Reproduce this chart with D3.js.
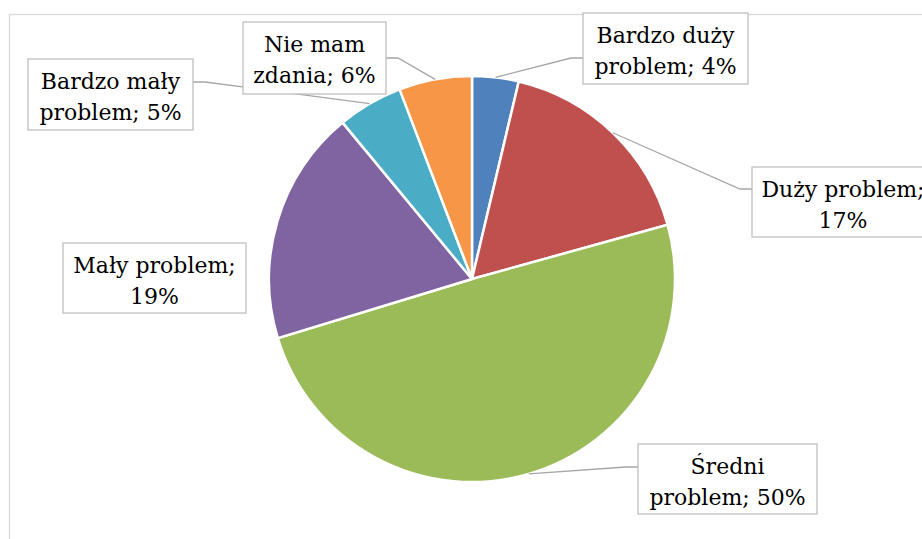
<!DOCTYPE html>
<html lang="pl">
<head>
    <meta charset="UTF-8">
    <style>
        body { margin: 0; background: #fff; }
        .slices path { stroke: #fff; stroke-width: 2.5px; }
        .leaders polyline { fill: none; stroke: #a6a6a6; stroke-width: 1.3px; }
        .labels rect { fill: #fff; stroke: #bfbfbf; stroke-width: 1.3px; }
        .labels text { font-family: "DejaVu Serif", serif; font-size: 22px; fill: #000; }
    </style>
    <title>Wykres</title>
</head>
<body>
<script src="https://d3js.org/d3.v7.min.js" charset="utf-8"></script>
<script>
    // data (percent shares, clockwise from 12 o'clock)
    var categories = ['Bardzo duży problem', 'Duży problem', 'Średni problem', 'Mały problem', 'Bardzo mały problem', 'Nie mam zdania'];
    var values = [3.7, 17.0, 49.6, 18.7, 5.2, 5.8];
    var colors = ['#4f81bd', '#c0504d', '#9bbb59', '#8064a2', '#4bacc6', '#f79646'];

    // label boxes placed like the original (x, y, w, h, side the leader comes in, leader y)
    var labelBoxes = [
        {x: 583, y: 13, w: 165, h: 71, side: 'left', ly: 58},
        {x: 752, y: 167, w: 182, h: 70, side: 'left', ly: 189},
        {x: 638, y: 444, w: 179, h: 70, side: 'left', ly: 467},
        {x: 63, y: 243, w: 183, h: 70, side: null},
        {x: 28, y: 59, w: 165, h: 71, side: 'right', ly: 82},
        {x: 243, y: 22, w: 143, h: 72, side: 'right', ly: 58}
    ];

    var width = 922, height = 539;
    var cx = 472, cy = 279, radius = 203;

    var svg = d3.select('body').append('svg').attr('width', width).attr('height', height);

    // chart area border (cut off at right and bottom)
    svg.append('rect')
        .attr('x', 9.5).attr('y', 14.5)
        .attr('width', 1000).attr('height', 1000)
        .attr('fill', 'none').attr('stroke', '#d9d9d9').attr('stroke-width', 1.3);

    var total = d3.sum(values);
    var pie = d3.pie().sort(null).value(function (d) { return d; });
    var arcs = pie(values);
    var arc = d3.arc().innerRadius(0).outerRadius(radius);

    var g = svg.append('g').attr('transform', 'translate(' + cx + ',' + cy + ')');

    g.append('g').attr('class', 'slices')
        .selectAll('path')
        .data(arcs)
        .enter()
        .append('path')
        .attr('d', arc)
        .attr('fill', function (d, i) { return colors[i]; });

    // leader lines: from the middle of the slice edge to the box
    var leaders = svg.append('g').attr('class', 'leaders');
    arcs.forEach(function (d, i) {
        var b = labelBoxes[i];
        if (!b.side) return;
        var mid = (d.startAngle + d.endAngle) / 2;
        var px = cx + radius * Math.sin(mid), py = cy - radius * Math.cos(mid);
        var ex = b.side === 'left' ? b.x : b.x + b.w;
        var elbow = b.side === 'left' ? ex - 12 : ex + 12;
        leaders.append('polyline')
            .attr('points', [[px, py], [elbow, b.ly], [ex, b.ly]].map(function (p) { return p.join(','); }).join(' '));
    });

    var labels = svg.append('g').attr('class', 'labels');
    arcs.forEach(function (d, i) {
        var b = labelBoxes[i];
        var lg = labels.append('g');
        lg.append('rect').attr('x', b.x).attr('y', b.y).attr('width', b.w).attr('height', b.h);

        var txt = categories[i] + '; ' + Math.round(values[i] / total * 100) + '%';
        var words = txt.split(' ');
        var maxW = b.w - 12;
        var lines = [], cur = '';
        var probe = lg.append('text');
        words.forEach(function (w) {
            var test = cur ? cur + ' ' + w : w;
            probe.text(test);
            if (cur && probe.node().getComputedTextLength() > maxW) {
                lines.push(cur);
                cur = w;
            } else {
                cur = test;
            }
        });
        lines.push(cur);
        probe.remove();

        lg.selectAll('text.line')
            .data(lines)
            .enter()
            .append('text')
            .attr('class', 'line')
            .attr('x', b.x + b.w / 2)
            .attr('y', function (l, j) { return b.y + 30 + j * 31; })
            .attr('text-anchor', 'middle')
            .text(function (l) { return l; });
    });
</script>
</body>
</html>
